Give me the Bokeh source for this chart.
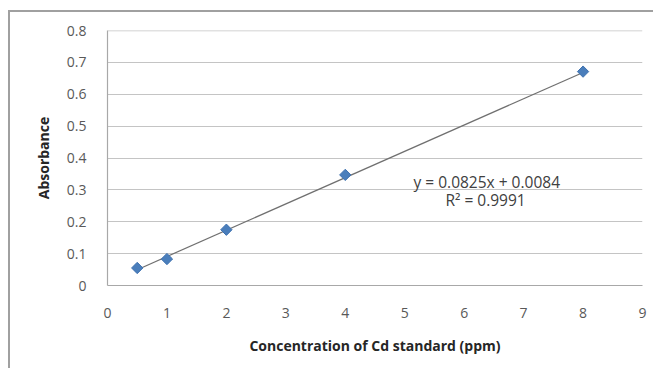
import math
from bokeh.plotting import figure
from bokeh.embed import file_html
from bokeh.resources import INLINE
from bokeh.models import Range1d, FixedTicker, Label, Span

conc = [0.5, 1, 2, 4, 8]
absorb = [0.055, 0.083, 0.175, 0.347, 0.671]
slope = 0.0825
intercept = 0.0084
x_ticks = [0, 1, 2, 3, 4, 5, 6, 7, 8, 9]
y_ticks = [0, 0.1, 0.2, 0.3, 0.4, 0.5, 0.6, 0.7, 0.8]
eq_text = "y = 0.0825x + 0.0084"
r2_text = "R² = 0.9991"

FONT = "Open Sans"
p = figure(width=645, height=358, output_backend="svg", toolbar_location=None,
           x_range=Range1d(0, 9), y_range=Range1d(0, 0.8),
           min_border_left=97, min_border_right=13, min_border_top=18, min_border_bottom=85)
p.styles = {"border-top": "2px solid #a0a0a0", "border-left": "2px solid #a0a0a0",
            "margin-left": "8px", "margin-top": "10px"}
p.outline_line_color = None
p.background_fill_color = "white"
p.border_fill_color = "white"

p.xgrid.grid_line_color = None
p.ygrid.grid_line_color = "#c4c4c4"
p.ygrid.grid_line_width = 1.2
p.add_layout(Span(location=y_ticks[-1], dimension="width", line_color="#c4c4c4", line_width=1.5))

for ax in (p.xaxis[0], p.yaxis[0]):
    ax.axis_line_color = "#a8a8a8"
    ax.axis_line_width = 1.2
    ax.major_tick_line_color = None
    ax.minor_tick_line_color = None
    ax.major_label_text_font = FONT
    ax.major_label_text_font_size = "14px"
    ax.major_label_text_color = "#595959"
    ax.axis_label_text_font = FONT
    ax.axis_label_text_font_size = "14px"
    ax.axis_label_text_font_style = "bold"
    ax.axis_label_text_color = "#262626"

p.xaxis.ticker = FixedTicker(ticks=x_ticks)
p.yaxis.ticker = FixedTicker(ticks=y_ticks)
p.xaxis.major_label_overrides = {t: str(t) for t in x_ticks}
p.yaxis.major_label_overrides = {t: ("0" if t == 0 else f"{t:.1f}") for t in y_ticks}
p.xaxis.major_label_standoff = 16
p.yaxis.major_label_standoff = 15
p.xaxis.axis_label = "Concentration of Cd standard (ppm)"
p.yaxis.axis_label = "Absorbance"
p.xaxis.axis_label_standoff = 15
p.yaxis.axis_label_standoff = 11

x0, x1 = min(conc), max(conc)
p.line([x0, x1], [slope * x0 + intercept, slope * x1 + intercept],
       line_color="#707070", line_width=1.2)
p.scatter(conc, absorb, marker="square", angle=math.pi / 4, size=8, fill_color="#4a7ebb",
          line_color="#3f72b0", line_width=1)

p.add_layout(Label(x=6.38, y=0.326, text=eq_text, text_align="center", text_baseline="middle",
                   text_font=FONT, text_font_size="15.5px", text_color="#404040"))
p.add_layout(Label(x=6.36, y=0.268, text=r2_text, text_align="center", text_baseline="middle",
                   text_font=FONT, text_font_size="15.5px", text_color="#404040"))

open("out.html", "w").write(file_html(p, INLINE))
